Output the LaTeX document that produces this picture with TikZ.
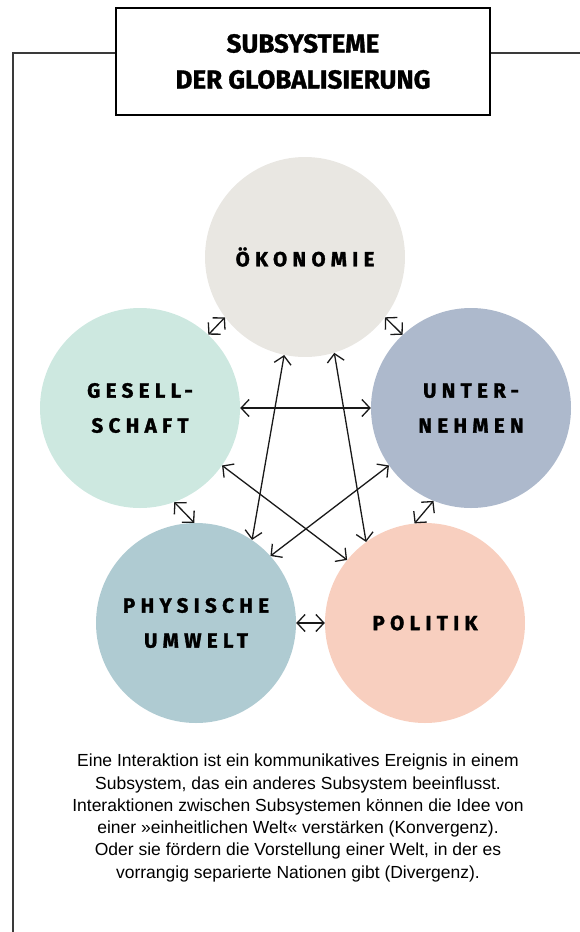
\documentclass[tikz,border=0pt]{standalone}
\usepackage{fontspec}
\usetikzlibrary{arrows.meta}
\setmainfont{Liberation Sans}
\newfontfamily\headfont[FakeBold=1.2]{Fira Sans}
\newfontfamily\subfont[LetterSpace=26,FakeBold=1.4]{Fira Sans}
\definecolor{oekfill}{HTML}{E9E7E2}
\definecolor{gesfill}{HTML}{CDE8E0}
\definecolor{untfill}{HTML}{ADB9CC}
\definecolor{physfill}{HTML}{AFCBD2}
\definecolor{polfill}{HTML}{F8CFBF}
\definecolor{framecol}{HTML}{3A3A3A}
\tikzset{
  sub/.style={circle,minimum size=200pt,inner sep=0pt,align=center,
    font=\subfont\bfseries\fontsize{20.5}{35}\selectfont},
  link/.style={{Straight Barb[length=8pt,width=17pt]}-{Straight Barb[length=8pt,width=17pt]},line width=1.3pt,color=black!90}
}
\begin{document}
\begin{tikzpicture}[x=1pt,y=-1pt]
    	\useasboundingbox (0,0) rectangle (580,932);
    	\node[draw,line width=2pt,minimum width=374pt,minimum height=107pt,inner sep=0pt,align=center,
    	  font=\headfont\bfseries\fontsize{26}{36}\selectfont] (title) at (303,61.5) {SUBSYSTEME\\DER GLOBALISIERUNG};
    	\coordinate (fl) at (13,932);
    	\coordinate (fr) at (580,53);
    	\draw[line width=1.4pt,framecol] (fl) |- ([yshift=8.5pt]title.west);
    	\draw[line width=1.4pt,framecol] ([yshift=8.5pt]title.east) -- (fr);

    	\node[sub,fill=oekfill] (oek) at (305,257) {ÖKONOMIE};
    	\node[sub,fill=gesfill] (ges) at (140,408) {GESELL-\\SCHAFT};
    	\node[sub,fill=untfill] (unt) at (471,408) {UNTER-\\NEHMEN};
    	\node[sub,fill=physfill] (phys) at (196,623) {PHYSISCHE\\UMWELT};
    	\node[sub,fill=polfill] (pol) at (425,623) {POLITIK};

    	\draw[link] (oek.217) -- (ges.47);
    	\draw[link] (oek.323) -- (unt.133);
    	\draw[link] (ges.290) -- (phys.91);
    	\draw[link] (unt.248) -- (pol.96);
    	\draw[link] (phys.east) -- (pol.west);
    	\draw[link] (ges.east) -- (unt.west);
    	\draw[link] (oek.258) -- (phys.56);
    	\draw[link] (oek.287) -- (pol.126);
    	\draw[link] (ges.325) -- (pol.141);
    	\draw[link] (unt.215) -- (phys.42);

    	\node[align=center,font=\fontsize{17.5}{22.3}\selectfont] (note) at (298,818)
    	  {Eine Interaktion ist ein kommunikatives Ereignis in einem\\
    	   Subsystem, das ein anderes Subsystem beeinflusst.\\
    	   Interaktionen zwischen Subsystemen können die Idee von\\
    	   einer »einheitlichen Welt« verstärken (Konvergenz).\\
    	   Oder sie fördern die Vorstellung einer Welt, in der es\\
    	   vorrangig separierte Nationen gibt (Divergenz).};
    	\end{tikzpicture}
\end{document}
